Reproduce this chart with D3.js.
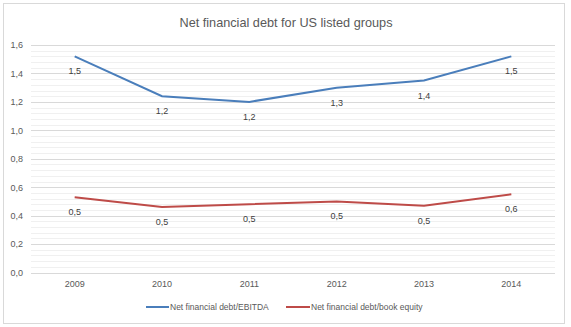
<!DOCTYPE html>
<html><head><meta charset="utf-8">
<script src="https://cdn.jsdelivr.net/npm/d3@7"></script>
<style>body{margin:0;background:#fff;}svg{display:block;font-family:"Liberation Sans",Arial,sans-serif;}</style>
</head><body>
<svg id="c" width="571" height="327"></svg>
<script>
const years = ["2009","2010","2011","2012","2013","2014"];
const ebitda = [1.52, 1.24, 1.20, 1.30, 1.35, 1.52];
const bookEquity = [0.53, 0.46, 0.48, 0.50, 0.47, 0.55];
const seriesNames = ["Net financial debt/EBITDA", "Net financial debt/book equity"];
const yTicks = [0, 0.2, 0.4, 0.6, 0.8, 1.0, 1.2, 1.4, 1.6];
const title = "Net financial debt for US listed groups";

const svg = d3.select("#c");
const W = 571, H = 327;
const m = {left:31, right:16, top:45, bottom:54.5};
const fmt = v => d3.format(".1f")(v).replace(".", ",");

svg.append("rect").attr("x",3.5).attr("y",3.5).attr("width",561).attr("height",320)
  .attr("fill","#fff").attr("stroke","#d9d9d9");

svg.append("text").attr("x",286).attr("y",27).attr("text-anchor","middle")
  .attr("font-size",12.7).attr("fill","#595959").text(title);

const x = d3.scaleBand().domain(years).range([m.left, W - m.right]);
const y = d3.scaleLinear().domain([0,1.6]).range([H - m.bottom, m.top]);

// minor gridlines
const minor = d3.range(0, 1.6001, 0.04);
svg.append("g").selectAll("line").data(minor).join("line")
  .attr("x1", m.left).attr("x2", W - m.right)
  .attr("y1", d => Math.round(y(d)) + 0.5).attr("y2", d => Math.round(y(d)) + 0.5)
  .attr("stroke", "#f0f0f0");
// major gridlines
svg.append("g").selectAll("line").data(yTicks).join("line")
  .attr("x1", m.left).attr("x2", W - m.right)
  .attr("y1", d => Math.round(y(d)) + 0.5).attr("y2", d => Math.round(y(d)) + 0.5)
  .attr("stroke", "#d9d9d9");

// y axis labels
const yAxis = d3.axisLeft(y).tickValues(yTicks).tickFormat(fmt).tickSize(0).tickPadding(8);
const gy = svg.append("g").attr("transform", `translate(${m.left},0)`).call(yAxis);
gy.select(".domain").remove();
gy.selectAll("text").attr("font-size",9).attr("fill","#595959").attr("font-family","Liberation Sans, Arial, sans-serif");

// x axis labels
const xAxis = d3.axisBottom(x).tickSize(0).tickPadding(8);
const gx = svg.append("g").attr("transform", `translate(0,${H - m.bottom})`).call(xAxis);
gx.select(".domain").remove();
gx.selectAll("text").attr("font-size",9).attr("fill","#595959").attr("font-family","Liberation Sans, Arial, sans-serif");

const cx = d => x(d) + x.bandwidth()/2;
const series = [
  {name: seriesNames[0], values: ebitda, color: "#4a7ebb"},
  {name: seriesNames[1], values: bookEquity, color: "#be4b48"}
];
const line = d3.line().x((d,i) => cx(years[i])).y(d => y(d));

series.forEach(s => {
  svg.append("path").datum(s.values).attr("d", line)
    .attr("fill","none").attr("stroke", s.color).attr("stroke-width",2);
  svg.append("g").selectAll("text").data(s.values).join("text")
    .attr("x", (d,i) => cx(years[i]))
    .attr("y", d => y(d) + 18)
    .attr("text-anchor","middle").attr("font-size",9).attr("fill","#404040")
    .text(fmt);
});

// legend
const leg = [{x1:146, x2:169, tx:170}, {x1:286, x2:310, tx:311}];
series.forEach((s,i) => {
  const g = svg.append("g");
  g.append("line").attr("x1", leg[i].x1).attr("x2", leg[i].x2).attr("y1",307).attr("y2",307)
    .attr("stroke", s.color).attr("stroke-width",2);
  g.append("text").attr("x", leg[i].tx).attr("y",310).attr("font-size",8.5).attr("fill","#595959").text(s.name);
});
</script>
</body></html>
